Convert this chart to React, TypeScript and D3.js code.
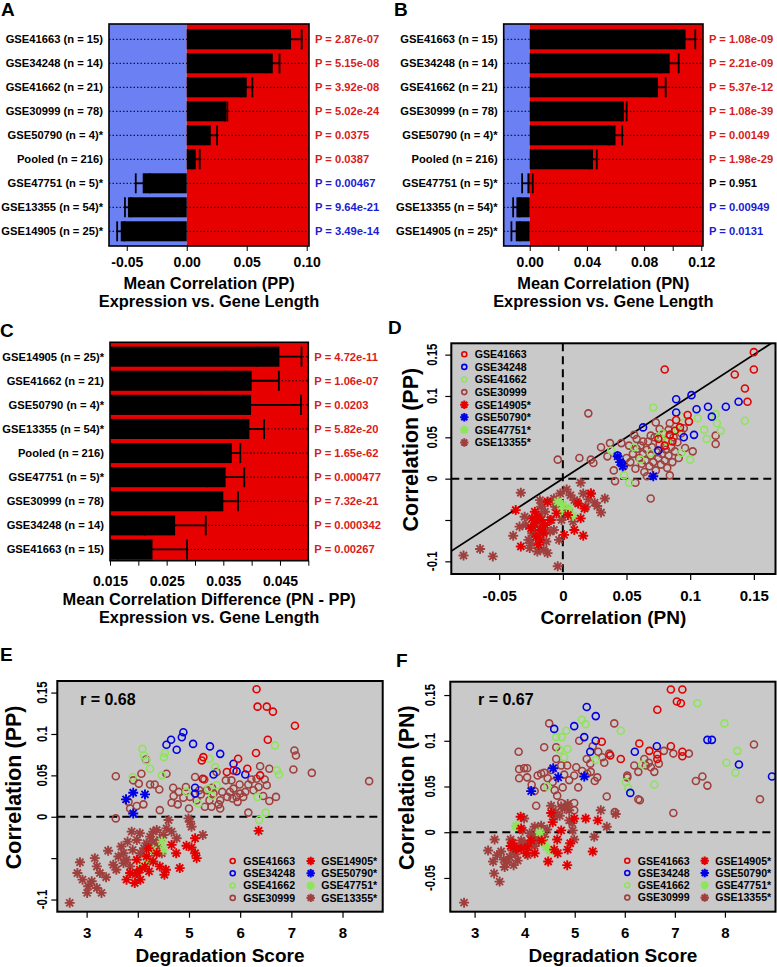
import React, { useEffect, useRef } from 'react'
import * as d3 from 'd3'

const W = 777
const H = 967
const FONT = '"Liberation Sans", Arial, sans-serif'

const RED_BG = '#e60000'
const BLUE_BG = '#6b80f3'
const PCOL: Record<string, string> = { r: '#d81c1c', b: '#1c1cd2', k: '#000' }
const GRAY = '#c9c9c9'

const C_RED = '#e20000'
const C_BLUE = '#0000e8'
const C_GREEN = '#8de55a'
const C_BROWN = '#a0403e'

// ---------- bar panels ----------
const labelsAB = ['GSE41663 (n = 15)', 'GSE34248 (n = 14)', 'GSE41662 (n = 21)', 'GSE30999 (n = 78)', 'GSE50790 (n = 4)*', 'Pooled (n = 216)', 'GSE47751 (n = 5)*', 'GSE13355 (n = 54)*', 'GSE14905 (n = 25)*']
const meanA = [0.0869, 0.0717, 0.050, 0.0328, 0.020, 0.0075, -0.0367, -0.049, -0.055]
const seA = [0.0089, 0.0056, 0.0047, 0.001, 0.0053, 0.0033, 0.0058, 0.0025, 0.003]
const pA = ['2.87e-07', '5.15e-08', '3.92e-08', '5.02e-24', '0.0375', '0.0387', '0.00467', '9.64e-21', '3.49e-14']
const pColA = ['r', 'r', 'r', 'r', 'r', 'r', 'b', 'b', 'b']

const meanB = [0.109, 0.0979, 0.0897, 0.0659, 0.060, 0.0443, -0.0016, -0.0093, -0.0098]
const seB = [0.0068, 0.0063, 0.0054, 0.0019, 0.0047, 0.0026, 0.0037, 0.0023, 0.003]
const pB = ['1.08e-09', '2.21e-09', '5.37e-12', '1.08e-39', '0.00149', '1.98e-29', '0.951', '0.00949', '0.0131']
const pColB = ['r', 'r', 'r', 'r', 'r', 'r', 'k', 'b', 'b']

const labelsC = ['GSE14905 (n = 25)*', 'GSE41662 (n = 21)', 'GSE50790 (n = 4)*', 'GSE13355 (n = 54)*', 'Pooled (n = 216)', 'GSE47751 (n = 5)*', 'GSE30999 (n = 78)', 'GSE34248 (n = 14)', 'GSE41663 (n = 15)']
const meanC = [0.0449, 0.040, 0.0399, 0.0396, 0.0365, 0.0354, 0.035, 0.0265, 0.0225]
const seC = [0.0039, 0.0048, 0.0088, 0.0026, 0.0015, 0.0033, 0.0026, 0.0054, 0.0061]
const pC = ['4.72e-11', '1.06e-07', '0.0203', '5.82e-20', '1.65e-62', '0.000477', '7.32e-21', '0.000342', '0.00267']
const pColC = ['r', 'r', 'r', 'r', 'r', 'r', 'r', 'r', 'r']

// ---------- scatter series ----------
const SERIES = [
  { name: 'GSE41663', color: C_RED, star: false },
  { name: 'GSE34248', color: C_BLUE, star: false },
  { name: 'GSE41662', color: C_GREEN, star: false },
  { name: 'GSE30999', color: C_BROWN, star: false },
  { name: 'GSE14905*', color: C_RED, star: true },
  { name: 'GSE50790*', color: C_BLUE, star: true },
  { name: 'GSE47751*', color: C_GREEN, star: true },
  { name: 'GSE13355*', color: C_BROWN, star: true },
]
const DRAW_ORDER = [3, 7, 2, 1, 0, 6, 5, 4]

// D: x = correlation (PN), y = correlation (PP)
const d41663 = [[0.080, 0.132], [0.150, 0.153], [0.150, 0.132], [0.135, 0.126], [0.143, 0.109], [0.145, 0.093], [0.098, 0.077], [0.099, 0.069], [0.089, 0.071], [0.084, 0.053], [0.086, 0.045], [0.092, 0.062], [0.080, 0.040], [0.075, 0.048], [0.088, 0.058]]
const d34248 = [[0.101, 0.101], [0.089, 0.096], [0.089, 0.080], [0.105, 0.084], [0.114, 0.087], [0.128, 0.087], [0.138, 0.093], [0.117, 0.075], [0.063, 0.062], [0.095, 0.050], [0.103, 0.053], [0.075, 0.034], [0.043, 0.028], [0.046, 0.019]]
const d41662 = [[0.071, 0.086], [0.120, 0.078], [0.121, 0.067], [0.106, 0.073], [0.111, 0.059], [0.124, 0.058], [0.113, 0.048], [0.143, 0.070], [0.100, 0.023], [0.093, 0.031], [0.056, 0.038], [0.048, 0.004], [0.052, -0.005], [0.078, 0.055], [0.090, 0.059], [0.093, 0.075], [0.076, 0.051], [0.038, 0.034], [0.069, 0.031], [0.061, 0.023], [0.082, 0.045]]
const d30999 = [[0.020, 0.079], [-0.004, 0.023], [0.013, 0.025], [0.022, 0.023], [0.024, 0.019], [0.030, 0.038], [0.037, 0.043], [0.035, 0.027], [0.046, 0.043], [0.040, 0.010], [0.041, -0.003], [0.056, 0.053], [0.057, -0.005], [0.069, -0.024], [0.073, 0.068], [0.084, 0.067], [0.083, 0.059], [0.084, 0.053], [0.095, 0.061], [0.096, 0.037], [0.102, 0.033], [0.120, 0.052], [0.120, 0.042], [0.084, 0.004], [0.082, 0.013],
  [0.048, 0.015], [0.050, 0.025], [0.053, 0.020], [0.055, 0.030], [0.057, 0.012], [0.058, 0.036], [0.060, 0.025], [0.061, 0.040], [0.062, 0.018], [0.063, 0.030], [0.064, 0.008], [0.065, 0.022], [0.066, 0.035], [0.067, 0.045], [0.068, 0.015], [0.069, 0.028], [0.070, 0.038], [0.071, 0.020], [0.072, 0.050], [0.073, 0.010], [0.074, 0.032], [0.075, 0.025], [0.076, 0.042], [0.077, 0.017], [0.078, 0.030], [0.079, 0.055], [0.080, 0.022], [0.081, 0.035], [0.082, 0.045], [0.083, 0.028], [0.085, 0.038], [0.086, 0.020], [0.087, 0.050], [0.088, 0.033], [0.090, 0.044], [0.091, 0.025], [0.093, 0.055], [0.058, 0.048], [0.052, 0.040], [0.066, 0.003], [0.076, 0.060], [0.069, 0.052], [0.063, 0.045]]
const d14905 = [[-0.037, -0.038], [-0.033, -0.082], [-0.022, -0.040], [-0.022, -0.054], [-0.018, -0.062], [-0.021, -0.070], [-0.017, -0.050], [-0.018, -0.074], [-0.012, -0.028], [-0.014, -0.056], [-0.005, -0.042], [0.001, -0.068], [0.004, -0.044], [0.009, -0.062], [0.014, -0.048], [0.016, -0.069], [0.017, -0.036], [0.022, -0.018], [-0.020, -0.046], [-0.015, -0.066], [-0.025, -0.060], [-0.019, -0.080], [-0.010, -0.050], [-0.024, -0.048], [0.012, -0.030]]
const d50790 = [[0.043, 0.027], [0.047, 0.015], [0.071, 0.003], [0.045, 0.020]]
const d47751 = [[0.000, -0.032], [-0.004, -0.028], [0.005, -0.036], [0.008, -0.045], [-0.002, -0.040]]
const d13355 = [[-0.078, -0.093], [-0.065, -0.085], [-0.055, -0.094], [-0.033, -0.017], [-0.039, -0.069], [-0.027, -0.074], [-0.020, -0.088], [-0.012, -0.090], [-0.004, -0.106], [-0.003, -0.074], [0.014, -0.005], [0.003, -0.013], [0.022, -0.018], [0.033, -0.024], [0.030, -0.041], [0.016, -0.018], [0.025, -0.029], [0.009, -0.026], [-0.007, -0.024], [-0.012, -0.028], [-0.018, -0.026], [-0.030, -0.046], [-0.029, -0.056], [-0.009, -0.050], [-0.007, -0.062], [-0.001, -0.050], [0.008, -0.052], [-0.017, -0.034], [-0.025, -0.078], [-0.016, -0.058], [-0.034, -0.058], [-0.024, -0.066], [-0.013, -0.076], [0.004, -0.038], [0.018, -0.034], [-0.021, -0.052], [-0.019, -0.045], [-0.023, -0.062], [-0.014, -0.040], [-0.006, -0.034], [0.006, -0.020], [0.011, -0.028], [-0.026, -0.084], [-0.010, -0.064], [0.020, -0.025], [0.027, -0.033], [-0.002, -0.018], [-0.015, -0.086]]

// E: x = degradation score, y = correlation (PP)
const e41663 = [[6.32, 0.154], [6.34, 0.133], [6.52, 0.133], [6.64, 0.127], [7.07, 0.110], [6.54, 0.093], [6.31, 0.077], [5.28, 0.072], [5.25, 0.068], [5.96, 0.070], [6.14, 0.058], [5.74, 0.054], [5.87, 0.056], [6.39, 0.050], [5.27, 0.046]]
const e34248 = [[4.89, 0.102], [4.86, 0.096], [4.65, 0.093], [4.56, 0.087], [4.76, 0.081], [5.08, 0.088], [5.41, 0.085], [5.61, 0.076], [5.87, 0.064], [5.93, 0.055], [6.10, 0.051], [5.48, 0.051], [5.12, 0.035], [5.12, 0.028]]
const e41662 = [[4.09, 0.082], [4.12, 0.074], [4.53, 0.077], [4.51, 0.072], [4.24, 0.058], [3.90, 0.048], [5.40, 0.070], [5.51, 0.060], [6.68, 0.086], [6.72, 0.056], [6.76, 0.051], [6.34, 0.024], [6.50, 0.005], [6.37, -0.004], [5.18, 0.016], [5.38, 0.034], [5.54, 0.038], [4.17, 0.068], [4.95, 0.030], [5.45, 0.025], [4.47, 0.050]]
const e30999 = [[3.57, -0.002], [3.57, 0.049], [3.91, 0.044], [4.07, 0.052], [4.16, 0.069], [4.24, 0.039], [4.33, 0.039], [4.42, 0.033], [4.56, 0.052], [4.43, 0.008], [3.98, 0.013], [4.11, 0.015], [4.69, 0.035], [4.66, 0.017], [4.78, 0.015], [4.89, 0.023], [4.94, 0.036], [5.02, 0.024], [5.12, 0.048], [5.15, 0.020], [5.35, 0.032], [5.31, 0.012], [5.44, 0.012], [5.48, 0.028], [5.61, 0.020], [5.61, 0.010], [5.54, 0.054], [5.80, 0.030], [5.83, 0.044], [5.87, 0.034], [5.93, 0.024], [6.06, 0.024], [6.16, 0.039], [6.16, 0.005], [6.26, 0.032], [6.36, 0.036], [6.32, 0.046], [6.39, 0.061], [6.48, 0.045], [6.52, 0.038], [6.57, 0.058], [6.57, 0.019], [6.70, 0.024], [7.04, 0.057], [7.06, 0.080], [7.09, 0.074], [7.40, 0.053], [8.52, 0.043], [5.72, 0.044], [5.99, 0.039], [5.85, 0.022], [4.80, 0.030], [5.23, 0.027], [5.00, 0.010], [3.82, 0.018], [3.85, 0.010], [4.02, 0.040], [5.30, 0.045], [5.45, 0.035], [5.65, 0.030], [6.00, 0.028], [6.45, 0.025], [5.95, 0.018], [5.20, 0.032], [4.70, 0.025], [5.58, 0.015], [6.22, 0.045], [5.40, 0.020], [6.10, 0.030], [5.75, 0.024]]
const e14905 = [[6.36, -0.017], [3.78, -0.076], [3.94, -0.080], [3.98, -0.068], [3.98, -0.052], [4.04, -0.064], [4.17, -0.048], [4.21, -0.038], [4.14, -0.060], [4.30, -0.054], [4.43, -0.060], [4.52, -0.070], [4.66, -0.034], [4.75, -0.044], [4.82, -0.062], [5.05, -0.037], [5.12, -0.044], [5.15, -0.050], [5.12, -0.026], [4.37, -0.044], [3.85, -0.068], [4.05, -0.076], [4.22, -0.066], [4.55, -0.064], [4.95, -0.035]]
const e50790 = [[3.77, 0.021], [3.91, 0.029], [4.14, 0.027], [3.91, 0.004]]
const e47751 = [[4.47, -0.030], [4.10, -0.060], [4.30, -0.040], [4.50, -0.040], [4.20, -0.052]]
const e13355 = [[2.67, -0.104], [2.87, -0.055], [2.82, -0.068], [2.92, -0.076], [3.03, -0.084], [3.01, -0.092], [3.20, -0.086], [3.29, -0.092], [3.16, -0.050], [3.20, -0.060], [3.26, -0.068], [3.38, -0.073], [3.42, -0.041], [3.52, -0.058], [3.62, -0.048], [3.72, -0.044], [3.78, -0.052], [3.85, -0.060], [3.88, -0.018], [3.98, -0.028], [4.04, -0.020], [4.17, -0.032], [4.24, -0.024], [4.30, -0.018], [4.37, -0.016], [4.43, -0.028], [4.56, -0.014], [4.60, -0.004], [4.66, -0.018], [4.76, -0.026], [4.47, -0.044], [4.99, -0.002], [5.02, -0.006], [5.05, -0.012], [5.27, -0.022], [4.38, -0.036], [3.68, -0.036], [4.05, -0.044], [4.22, -0.050], [3.10, -0.078], [3.90, -0.040], [3.95, -0.070], [3.58, -0.064], [4.12, -0.038], [4.30, -0.030], [3.80, -0.030], [4.50, -0.022], [3.72, -0.056]]

// F: x = degradation score, y = correlation (PN)
const f41663 = [[6.92, 0.156], [7.15, 0.156], [7.04, 0.143], [7.12, 0.141], [6.65, 0.134], [5.54, 0.099], [6.29, 0.097], [5.92, 0.080], [5.71, 0.084], [6.65, 0.085], [6.92, 0.094], [7.15, 0.088], [7.15, 0.083], [6.65, 0.080], [6.49, 0.089]]
const f34248 = [[5.24, 0.137], [5.42, 0.127], [4.59, 0.113], [4.99, 0.116], [5.19, 0.104], [5.42, 0.100], [5.31, 0.088], [6.20, 0.088], [6.64, 0.094], [7.65, 0.101], [7.74, 0.101], [8.28, 0.074], [8.94, 0.061], [6.11, 0.043]]
const f41662 = [[7.45, 0.141], [5.14, 0.123], [5.22, 0.118], [4.83, 0.111], [4.63, 0.104], [4.74, 0.104], [4.86, 0.091], [4.79, 0.082], [5.92, 0.111], [7.99, 0.119], [8.25, 0.089], [8.03, 0.076], [8.21, 0.065], [6.59, 0.052], [6.02, 0.055], [6.07, 0.048], [5.42, 0.079], [3.83, 0.006], [6.35, 0.074], [4.45, 0.050], [4.70, 0.090]]
const f30999 = [[3.88, 0.088], [3.89, 0.069], [3.99, 0.070], [4.05, 0.070], [3.89, 0.059], [4.05, 0.060], [4.14, 0.052], [4.33, 0.064], [4.39, 0.093], [4.49, 0.119], [4.63, 0.093], [4.63, 0.080], [4.53, 0.068], [4.39, 0.065], [4.56, 0.055], [4.73, 0.073], [4.79, 0.063], [4.89, 0.057], [5.03, 0.071], [4.99, 0.062], [5.07, 0.049], [5.09, 0.100], [5.24, 0.080], [5.31, 0.075], [5.32, 0.066], [5.40, 0.056], [5.47, 0.088], [5.69, 0.086], [5.79, 0.119], [5.64, 0.039], [6.05, 0.062], [6.19, 0.073], [6.27, 0.066], [6.27, 0.036], [6.39, 0.080], [6.42, 0.073], [6.52, 0.071], [6.59, 0.066], [6.68, 0.075], [6.78, 0.089], [6.97, 0.086], [6.97, 0.021], [7.28, 0.086], [7.42, 0.056], [7.55, 0.061], [7.65, 0.051], [8.58, 0.096], [8.70, 0.036], [4.23, 0.029], [4.65, 0.040], [4.73, 0.032], [4.76, 0.049], [4.99, 0.032], [4.99, 0.024], [5.36, 0.094], [5.59, 0.076], [4.39, 0.049], [4.26, 0.062], [4.46, 0.059], [4.20, 0.045], [5.15, 0.067], [5.55, 0.082], [5.80, 0.022], [6.05, 0.060], [6.48, 0.076], [4.85, 0.073], [5.25, 0.064], [4.60, 0.046], [5.45, 0.060], [6.30, 0.035]]
const f14905 = [[3.92, 0.017], [3.93, 0.004], [3.72, -0.015], [3.83, -0.018], [3.93, -0.018], [4.06, -0.016], [4.13, -0.009], [4.20, -0.023], [4.34, -0.009], [4.53, 0.021], [4.56, 0.011], [4.47, -0.032], [4.59, -0.019], [4.73, 0.002], [4.65, -0.008], [4.86, -0.019], [4.91, -0.012], [4.85, -0.036], [4.99, 0.015], [5.22, 0.015], [5.46, 0.013], [5.36, -0.021], [4.66, -0.023], [4.03, -0.023], [3.76, -0.012]]
const f50790 = [[4.13, 0.045], [4.57, 0.070], [4.67, 0.060], [5.19, 0.061]]
const f47751 = [[3.83, 0.007], [4.43, -0.016], [4.38, -0.010], [4.30, 0.000], [4.50, -0.020]]
const f13355 = [[2.79, -0.077], [3.50, -0.054], [3.39, -0.045], [3.27, -0.020], [3.40, -0.008], [3.37, -0.032], [3.53, -0.021], [3.60, -0.038], [3.70, -0.027], [3.76, -0.020], [3.86, -0.031], [3.90, -0.016], [3.93, -0.009], [3.99, 0.015], [3.96, 0.002], [4.10, -0.001], [4.20, 0.006], [4.23, -0.007], [4.33, 0.007], [4.39, -0.005], [4.53, 0.029], [4.59, 0.017], [4.73, 0.028], [4.86, 0.031], [4.89, 0.024], [4.96, 0.002], [4.99, -0.008], [4.89, 0.013], [5.39, -0.005], [5.52, 0.024], [5.64, 0.006], [5.82, 0.020], [4.20, -0.015], [3.65, -0.032], [3.78, -0.036], [4.06, -0.025], [3.45, -0.025], [3.82, -0.024], [4.00, -0.012], [4.45, 0.003], [4.70, 0.018], [4.80, 0.026], [4.62, 0.022], [4.95, 0.010], [3.58, -0.030], [4.15, -0.005], [4.28, -0.010], [3.72, -0.008]]

const starPath = (s: number) => {
  const d = s * 0.7071
  return `M${-s},0L${s},0M0,${-s}L0,${s}M${-d},${-d}L${d},${d}M${-d},${d}L${d},${-d}`
}

const panelA = {
  letter: 'A', letterX: 1, letterY: 16,
  labels: labelsAB, means: meanA, ses: seA, pvals: pA, pcols: pColA,
  domain: [-0.0648, 0.1019], box: { x0: 109, x1: 309, y0: 24, y1: 246 }, band: [27.3, 243.3],
  ticks: [-0.05, 0, 0.05, 0.1], shown: [-0.05, 0, 0.05, 0.1], digits: 2, tickPad: 6,
  title1: 'Mean Correlation (PP)', title2: 'Expression vs. Gene Length', t1: 289, t2: 307,
}
const panelB = {
  letter: 'B', letterX: 394, letterY: 16,
  labels: labelsAB, means: meanB, ses: seB, pvals: pB, pcols: pColB,
  domain: [-0.0182, 0.1212], box: { x0: 503.7, x1: 703, y0: 24, y1: 246 }, band: [27.3, 243.3],
  ticks: [0, 0.02, 0.04, 0.06, 0.08, 0.1, 0.12], shown: [0, 0.04, 0.08, 0.12], digits: 2, tickPad: 6,
  title1: 'Mean Correlation (PN)', title2: 'Expression vs. Gene Length', t1: 289, t2: 307,
}
const panelC = {
  letter: 'C', letterX: 0, letterY: 337,
  labels: labelsC, means: meanC, ses: seC, pvals: pC, pcols: pColC,
  domain: [0.015, 0.050], box: { x0: 110, x1: 308.3, y0: 342.3, y1: 560.7 }, band: [344.6, 561.5],
  ticks: [0.015, 0.02, 0.025, 0.03, 0.035, 0.04, 0.045, 0.05], shown: [0.015, 0.025, 0.035, 0.045], digits: 3, tickPad: 10,
  title1: 'Mean Correlation Difference (PN - PP)', title2: 'Expression vs. Gene Length', t1: 605, t2: 623,
}

const panelD = {
  id: 'D', letter: 'D', letterX: 388, letterY: 334,
  data: [d41663, d34248, d41662, d30999, d14905, d50790, d47751, d13355],
  box: { x0: 451.3, x1: 775.5, y0: 343.3, y1: 574 },
  xDomain: [-0.0876, 0.167], yDomain: [-0.1153, 0.1637],
  xTicks: [-0.05, 0, 0.05, 0.1, 0.15], yTicks: [-0.1, -0.05, 0, 0.05, 0.1, 0.15], yShown: [-0.1, 0, 0.05, 0.1, 0.15],
  yLabOff: 20, yTitleOff: 41, xTitle: 'Correlation (PN)', yTitle: 'Correlation (PP)',
  vline: true, diag: true, legend: 'column', legX: 464.3, legY: 354.3, legStep: 12.6,
}
const panelE = {
  id: 'E', letter: 'E', letterX: 0, letterY: 661,
  data: [e41663, e34248, e41662, e30999, e14905, e50790, e47751, e13355],
  box: { x0: 57.3, x1: 382.7, y0: 681, y1: 911.7 },
  xDomain: [2.427, 8.785], yDomain: [-0.1147, 0.164],
  xTicks: [3, 4, 5, 6, 7, 8], yTicks: [-0.1, -0.05, 0, 0.05, 0.1, 0.15], yShown: [-0.1, 0, 0.05, 0.1, 0.15],
  yLabOff: 16, yTitleOff: 44, xTitle: 'Degradation Score', yTitle: 'Correlation (PP)',
  vline: false, diag: false, legend: 'grid', legX: 232.7, legX2: 310.7, legY: 861, legStep: 12.3,
  r: 'r = 0.68', rX: 80, rY: 705,
}
const panelF = {
  id: 'F', letter: 'F', letterX: 396, letterY: 667,
  data: [f41663, f34248, f41662, f30999, f14905, f50790, f47751, f13355],
  box: { x0: 450.3, x1: 775.5, y0: 681.7, y1: 911.7 },
  xDomain: [2.515, 9.01], yDomain: [-0.0869, 0.1646],
  xTicks: [3, 4, 5, 6, 7, 8], yTicks: [-0.05, 0, 0.05, 0.1, 0.15], yShown: [-0.05, 0, 0.05, 0.1, 0.15],
  yLabOff: 21, yTitleOff: 44, xTitle: 'Degradation Score', yTitle: 'Correlation (PN)',
  vline: false, diag: false, legend: 'grid', legX: 627.3, legX2: 704.7, legY: 860.7, legStep: 12.3,
  r: 'r = 0.67', rX: 478, rY: 705,
}

const letter = (svg: any, t: string, x: number, y: number) => {
  svg.append('text').attr('x', x).attr('y', y).text(t)
    .attr('font-family', FONT).attr('font-weight', 'bold').attr('font-size', 19)
}

function drawBars(svg: any, c: any) {
  const { box } = c
  const g = svg.append('g').attr('font-family', FONT).attr('font-weight', 'bold')
  const x = d3.scaleLinear().domain(c.domain).range([box.x0, box.x1])
  const y = d3.scaleBand<string>().domain(c.labels).range(c.band).paddingInner(1 / 6).paddingOuter(1 / 12)
  const cy = (l: string) => (y(l) as number) + y.bandwidth() / 2
  const zx = Math.max(box.x0, Math.min(box.x1, x(0)))
  if (zx > box.x0) {
    g.append('rect').attr('x', box.x0).attr('y', box.y0).attr('width', zx - box.x0)
      .attr('height', box.y1 - box.y0).attr('fill', BLUE_BG)
  }
  g.append('rect').attr('x', zx).attr('y', box.y0).attr('width', box.x1 - zx)
    .attr('height', box.y1 - box.y0).attr('fill', RED_BG)

  g.selectAll('line.dot').data(c.labels).enter().append('line')
    .attr('x1', box.x0).attr('x2', box.x1).attr('y1', cy).attr('y2', cy)
    .attr('stroke', '#000').attr('stroke-width', 1).attr('stroke-dasharray', '1.5,2')

  const base = Math.max(0, c.domain[0])
  const rows = c.labels.map((l: string, i: number) => ({ l, m: c.means[i], se: c.ses[i], p: c.pvals[i], pc: c.pcols[i] }))

  g.selectAll('rect.bar').data(rows).enter().append('rect')
    .attr('x', (d: any) => x(Math.min(base, d.m)))
    .attr('width', (d: any) => Math.abs(x(d.m) - x(base)))
    .attr('y', (d: any) => y(d.l)).attr('height', y.bandwidth()).attr('fill', '#000')

  const bw = y.bandwidth()
  const err = g.selectAll('g.err').data(rows).enter().append('g').attr('stroke', '#000').attr('stroke-width', 1.8)
  err.append('line').attr('x1', (d: any) => x(d.m - d.se)).attr('x2', (d: any) => x(d.m + d.se))
    .attr('y1', (d: any) => cy(d.l)).attr('y2', (d: any) => cy(d.l))
  err.append('line').attr('x1', (d: any) => x(d.m + d.se)).attr('x2', (d: any) => x(d.m + d.se))
    .attr('y1', (d: any) => cy(d.l) - bw / 2).attr('y2', (d: any) => cy(d.l) + bw / 2)
  err.append('line').attr('x1', (d: any) => x(d.m - d.se)).attr('x2', (d: any) => x(d.m - d.se))
    .attr('y1', (d: any) => cy(d.l) - bw / 2).attr('y2', (d: any) => cy(d.l) + bw / 2)

  g.selectAll('text.lab').data(rows).enter().append('text')
    .attr('x', box.x0 - 6).attr('y', (d: any) => cy(d.l)).attr('dy', '0.36em')
    .attr('text-anchor', 'end').attr('font-size', 11.2).text((d: any) => d.l)
  g.selectAll('text.pv').data(rows).enter().append('text')
    .attr('x', box.x1 + 6).attr('y', (d: any) => cy(d.l)).attr('dy', '0.36em')
    .attr('font-size', 11.2).attr('fill', (d: any) => PCOL[d.pc]).text((d: any) => `P = ${d.p}`)

  g.append('rect').attr('x', box.x0).attr('y', box.y0).attr('width', box.x1 - box.x0)
    .attr('height', box.y1 - box.y0).attr('fill', 'none').attr('stroke', '#000').attr('stroke-width', 1.6)

  const ax = g.append('g').attr('transform', `translate(0,${box.y1})`)
    .call(d3.axisBottom(x).tickValues(c.ticks).tickSize(5).tickPadding(c.tickPad)
      .tickFormat((d: any) => (c.shown.some((s: number) => Math.abs(s - d) < 1e-9) ? (+d).toFixed(c.digits) : '')))
  ax.attr('font-family', FONT).attr('font-size', 14).attr('font-weight', 'bold')
  ax.select('.domain').remove()
  ax.selectAll('line').attr('stroke', '#000').attr('stroke-width', 1)
  ax.selectAll('text').attr('fill', '#000')

  const mid = (box.x0 + box.x1) / 2
  g.append('text').attr('x', mid).attr('y', c.t1).attr('text-anchor', 'middle').attr('font-size', 16.4).text(c.title1)
  g.append('text').attr('x', mid).attr('y', c.t2).attr('text-anchor', 'middle').attr('font-size', 16.4).text(c.title2)
  letter(svg, c.letter, c.letterX, c.letterY)
}

function marker(sel: any, meta: any, big: boolean) {
  if (meta.star) {
    sel.append('path').attr('d', starPath(big ? 5 : 4.2)).attr('fill', 'none')
      .attr('stroke', meta.color).attr('stroke-width', big ? 1.9 : 2.1)
  } else {
    sel.append('circle').attr('r', big ? 3.5 : 2.5).attr('fill', 'none')
      .attr('stroke', meta.color).attr('stroke-width', 1.6)
  }
}

function drawScatter(svg: any, c: any) {
  const { box } = c
  const x = d3.scaleLinear().domain(c.xDomain).range([box.x0, box.x1])
  const y = d3.scaleLinear().domain(c.yDomain).range([box.y1, box.y0])
  const g = svg.append('g').attr('font-family', FONT).attr('font-weight', 'bold')
  const clipId = `clip-${c.id}`
  g.append('clipPath').attr('id', clipId).append('rect')
    .attr('x', box.x0).attr('y', box.y0).attr('width', box.x1 - box.x0).attr('height', box.y1 - box.y0)
  g.append('rect').attr('x', box.x0).attr('y', box.y0).attr('width', box.x1 - box.x0)
    .attr('height', box.y1 - box.y0).attr('fill', GRAY)
  const inner = g.append('g').attr('clip-path', `url(#${clipId})`)

  inner.append('line').attr('x1', box.x0).attr('x2', box.x1).attr('y1', y(0)).attr('y2', y(0))
    .attr('stroke', '#000').attr('stroke-width', 2).attr('stroke-dasharray', '8,5')
  if (c.vline) {
    inner.append('line').attr('x1', x(0)).attr('x2', x(0)).attr('y1', box.y0).attr('y2', box.y1)
      .attr('stroke', '#000').attr('stroke-width', 2).attr('stroke-dasharray', '8,5')
  }
  if (c.diag) {
    const [a, b] = c.xDomain
    inner.append('line').attr('x1', x(a)).attr('y1', y(a)).attr('x2', x(b)).attr('y2', y(b))
      .attr('stroke', '#000').attr('stroke-width', 1.8)
  }

  DRAW_ORDER.forEach((i) => {
    const meta = SERIES[i]
    const pts = inner.selectAll(null).data(c.data[i]).enter().append('g')
      .attr('transform', (d: any) => `translate(${x(d[0])},${y(d[1])})`)
    marker(pts, meta, true)
  })

  g.append('rect').attr('x', box.x0).attr('y', box.y0).attr('width', box.x1 - box.x0)
    .attr('height', box.y1 - box.y0).attr('fill', 'none').attr('stroke', '#000').attr('stroke-width', 2)

  const ax = g.append('g').attr('transform', `translate(0,${box.y1})`)
    .call(d3.axisBottom(x).tickValues(c.xTicks).tickSize(6).tickPadding(10)
      .tickFormat((d: any) => String(d)))
  ax.attr('font-family', FONT).attr('font-size', 15).attr('font-weight', 'bold')
  ax.select('.domain').remove()
  ax.selectAll('line').attr('stroke', '#000').attr('stroke-width', 1.2)
  ax.selectAll('text').attr('fill', '#000')

  const ay = g.append('g').attr('transform', `translate(${box.x0},0)`)
    .call(d3.axisLeft(y).tickValues(c.yTicks).tickSize(6).tickFormat(() => ''))
  ay.select('.domain').remove()
  ay.selectAll('line').attr('stroke', '#000').attr('stroke-width', 1.2)

  g.selectAll('text.yl').data(c.yShown).enter().append('text')
    .attr('transform', (d: number) => `translate(${box.x0 - c.yLabOff},${y(d)}) rotate(-90) scale(0.76,1)`)
    .attr('text-anchor', 'middle').attr('dy', '0.36em').attr('font-size', 15)
    .text((d: number) => String(d))

  g.append('text').attr('x', (box.x0 + box.x1) / 2).attr('y', box.y1 + 50)
    .attr('text-anchor', 'middle').attr('font-size', 19).text(c.xTitle)
  g.append('text')
    .attr('transform', `translate(${box.x0 - c.yTitleOff},${(box.y0 + box.y1) / 2 - 9}) rotate(-90)`)
    .attr('text-anchor', 'middle').attr('dy', '0.36em').attr('font-size', 21.5).text(c.yTitle)

  const leg = g.append('g')
  SERIES.forEach((meta, i) => {
    let mx: number, my: number
    if (c.legend === 'column') {
      mx = c.legX
      my = c.legY + i * c.legStep
    } else {
      mx = i < 4 ? c.legX : c.legX2
      my = c.legY + (i % 4) * c.legStep
    }
    const it = leg.append('g').attr('transform', `translate(${mx},${my})`)
    marker(it, meta, false)
    it.append('text').attr('x', 10.5).attr('dy', '0.36em').attr('font-size', 10.6).text(meta.name)
  })

  if (c.r) {
    g.append('text').attr('x', c.rX).attr('y', c.rY).attr('font-size', 16).text(c.r)
  }
  letter(svg, c.letter, c.letterX, c.letterY)
}

export default function App() {
  const ref = useRef<SVGSVGElement>(null)

  useEffect(() => {
    const svg = d3.select(ref.current)
    svg.selectAll('*').remove()
    svg.append('rect').attr('width', W).attr('height', H).attr('fill', '#fff')
    drawBars(svg, panelA)
    drawBars(svg, panelB)
    drawBars(svg, panelC)
    drawScatter(svg, panelD)
    drawScatter(svg, panelE)
    drawScatter(svg, panelF)
  }, [])

  return (
    <svg ref={ref} width={W} height={H} style={{ position: 'absolute', left: 0, top: 0 }} />
  )
}
